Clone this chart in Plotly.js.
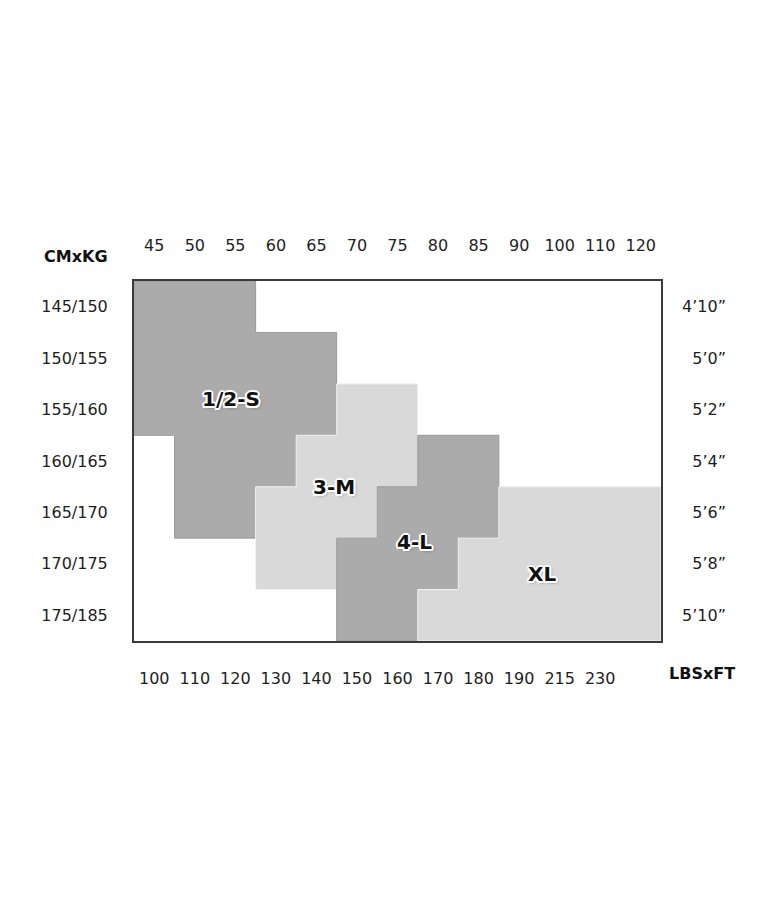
<!DOCTYPE html>
<html>
<head>
<meta charset="utf-8">
<script src="https://cdn.plot.ly/plotly-3.0.1.min.js"></script>
<style>
html, body { margin: 0; padding: 0; background: #ffffff; }
#chart { width: 780px; height: 900px; }
</style>
</head>
<body>
<div id="chart"></div>
<script>
// Weight columns (top: kg, bottom: lbs) and height rows (left: cm, right: ft)
const kgLabels = ['45','50','55','60','65','70','75','80','85','90','100','110','120'];
const lbsLabels = ['100','110','120','130','140','150','160','170','180','190','215','230'];
const cmLabels = ['145/150','150/155','155/160','160/165','165/170','170/175','175/185'];
const ftLabels = ['4\u201910\u201d','5\u20190\u201d','5\u20192\u201d','5\u20194\u201d','5\u20196\u201d','5\u20198\u201d','5\u201910\u201d'];

// Size regions: for each covered height row, the first and last weight column boundary
const sizeNames = ['1/2-S', '3-M', '4-L', 'XL'];
const rowsS  = [0, 1, 2, 3, 4];  const fromS  = [0, 0, 0, 1, 1]; const toS  = [3, 5, 5, 4, 3];
const rowsM  = [2, 3, 4, 5];     const fromM  = [5, 4, 3, 3];    const toM  = [7, 7, 6, 5];
const rowsL  = [3, 4, 5, 6];     const fromL  = [7, 6, 5, 5];    const toL  = [9, 9, 8, 7];
const rowsXL = [4, 5, 6];        const fromXL = [9, 8, 7];       const toXL = [13, 13, 13];

// Label anchor points (in column / row units)
const labelX = [2.39, 4.93, 6.91, 10.06];
const labelY = [2.29, 4.00, 5.07, 5.70];

const regions = [
  {rows: rowsS,  from: fromS,  to: toS,  fill: '#ababab', line: '#9a9a9a'},
  {rows: rowsM,  from: fromM,  to: toM,  fill: '#d9d9d9', line: '#f2f2f2'},
  {rows: rowsL,  from: fromL,  to: toL,  fill: '#ababab', line: '#9a9a9a'},
  {rows: rowsXL, from: fromXL, to: toXL, fill: '#d9d9d9', line: '#f2f2f2'}
];

function outline(reg) {
  const xs = [], ys = [];
  for (let i = 0; i < reg.rows.length; i++) {
    xs.push(reg.to[i], reg.to[i]);
    ys.push(reg.rows[i], reg.rows[i] + 1);
  }
  for (let i = reg.rows.length - 1; i >= 0; i--) {
    xs.push(reg.from[i], reg.from[i]);
    ys.push(reg.rows[i] + 1, reg.rows[i]);
  }
  xs.push(xs[0]); ys.push(ys[0]);
  return {xs, ys};
}

const traces = regions.map((reg, k) => {
  const o = outline(reg);
  return {
    type: 'scatter', mode: 'lines', x: o.xs, y: o.ys,
    fill: 'toself', fillcolor: reg.fill,
    line: {color: reg.line, width: 1},
    name: sizeNames[k], hoverinfo: 'skip', showlegend: false
  };
});
// invisible trace to activate the secondary axes
traces.push({type: 'scatter', mode: 'markers', x: [0.5], y: [0.5], xaxis: 'x2', yaxis: 'y2',
  marker: {opacity: 0}, hoverinfo: 'skip', showlegend: false});

const FONT = 'DejaVu Sans, sans-serif';
const tickFont = {family: FONT, size: 16, color: '#1e1e1e'};
const colCenters = kgLabels.map((_, i) => i + 0.5);
const rowCenters = cmLabels.map((_, i) => i + 0.5);
const dom = (661 - 134) / 646;

const shadow = '2px 0 0 #fff, -2px 0 0 #fff, 0 2px 0 #fff, 0 -2px 0 #fff, 1.5px 1.5px 0 #fff, -1.5px -1.5px 0 #fff, 1.5px -1.5px 0 #fff, -1.5px 1.5px 0 #fff, 2px 2px 3px rgba(0,0,0,0.35)';

const annotations = sizeNames.map((s, k) => ({
  x: labelX[k], y: labelY[k], xref: 'x', yref: 'y', text: '<b>' + s + '</b>',
  showarrow: false, xanchor: 'center', yanchor: 'middle',
  font: {family: FONT, size: 20, color: '#111111', shadow: shadow}
}));
annotations.push({x: -0.1424, y: 1.0667, xref: 'paper', yref: 'paper', text: '<b>CMxKG</b>',
  showarrow: false, xanchor: 'left', yanchor: 'middle', font: {family: FONT, size: 16, color: '#111111'}});
annotations.push({x: 0.8251, y: -0.0889, xref: 'paper', yref: 'paper', text: '<b>LBSxFT</b>',
  showarrow: false, xanchor: 'left', yanchor: 'middle', font: {family: FONT, size: 16, color: '#111111'}});

const layout = {
  width: 780, height: 900,
  margin: {l: 134, r: 0, t: 281, b: 259},
  paper_bgcolor: '#ffffff', plot_bgcolor: '#ffffff',
  showlegend: false,
  xaxis: {
    domain: [0, dom], range: [0, 13], side: 'top',
    tickmode: 'array', tickvals: colCenters, ticktext: kgLabels,
    ticks: '', showgrid: false, zeroline: false,
    showline: true, mirror: true, linecolor: '#3a3a3a', linewidth: 2,
    tickfont: tickFont, ticklabelstandoff: 22, fixedrange: true
  },
  xaxis2: {
    domain: [0, dom], range: [0, 13], side: 'bottom', overlaying: 'x', anchor: 'y',
    tickmode: 'array', tickvals: lbsLabels.map((_, i) => i + 0.5), ticktext: lbsLabels,
    ticks: '', showgrid: false, zeroline: false, showline: false,
    tickfont: tickFont, ticklabelstandoff: 26, fixedrange: true
  },
  yaxis: {
    range: [7, 0], tickmode: 'array', tickvals: rowCenters, ticktext: cmLabels,
    ticks: '', showgrid: false, zeroline: false,
    showline: true, mirror: true, linecolor: '#3a3a3a', linewidth: 2,
    tickfont: tickFont, ticklabelstandoff: 21, fixedrange: true
  },
  yaxis2: {
    range: [7, 0], overlaying: 'y', anchor: 'free', side: 'left', position: (726 - 134) / 646,
    tickmode: 'array', tickvals: rowCenters, ticktext: ftLabels,
    ticks: '', showgrid: false, zeroline: false, showline: false,
    tickfont: tickFont, fixedrange: true
  },
  annotations: annotations
};

Plotly.newPlot('chart', traces, layout, {displayModeBar: false, staticPlot: true});
</script>
</body>
</html>
